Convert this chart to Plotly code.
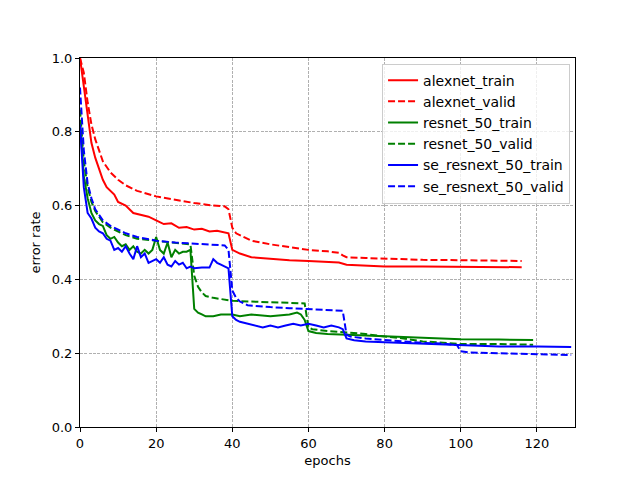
import plotly.graph_objects as go

# ---- data ----
alex_train_x = [0,1,2,3,4,5,6,7,8,9,10,12,14,16,18,20,22,24,26,28,30,32,34,36,38,39,40,42,45,50,55,60,65,68,70,75,80,90,100,110,116]
alex_train_y = [1.0,0.92,0.84,0.77,0.73,0.70,0.67,0.65,0.64,0.63,0.61,0.60,0.58,0.575,0.57,0.56,0.55,0.552,0.54,0.542,0.535,0.537,0.53,0.532,0.527,0.525,0.48,0.47,0.46,0.455,0.452,0.45,0.448,0.446,0.44,0.437,0.435,0.435,0.434,0.433,0.433]

alex_valid_x = [0,1,2,3,4,5,6,8,10,12,15,20,25,30,35,38,39,40,41,43,45,50,55,60,65,68,69,70,75,80,90,100,110,116]
alex_valid_y = [1.0,0.96,0.88,0.82,0.78,0.75,0.72,0.69,0.67,0.655,0.64,0.625,0.615,0.607,0.60,0.598,0.59,0.54,0.525,0.515,0.505,0.495,0.488,0.48,0.476,0.472,0.465,0.46,0.458,0.456,0.453,0.452,0.45,0.45]

res_train_x = [0,1,2,3,4,5,6,7,8,9,10,11,12,13,14,15,16,17,18,19,20,21,22,23,24,25,26,27,28,29,30,31,32,33,35,37,40,42,45,50,55,57,58,59,60,62,65,70,75,80,90,100,110,119]
res_train_y = [0.83,0.68,0.62,0.58,0.56,0.55,0.545,0.52,0.51,0.515,0.50,0.49,0.495,0.48,0.49,0.475,0.47,0.48,0.47,0.48,0.515,0.48,0.47,0.50,0.46,0.48,0.47,0.475,0.475,0.48,0.32,0.31,0.305,0.30,0.30,0.305,0.305,0.30,0.305,0.30,0.305,0.31,0.305,0.29,0.26,0.255,0.252,0.25,0.25,0.247,0.243,0.238,0.237,0.236]

res_valid_x = [0,1,2,3,4,5,6,8,10,12,15,20,25,28,29,30,31,32,33,35,38,40,45,50,55,59,60,61,65,70,75,80,85,90,95,100,110,119]
res_valid_y = [0.86,0.72,0.65,0.61,0.585,0.57,0.555,0.54,0.53,0.52,0.51,0.505,0.50,0.498,0.495,0.41,0.38,0.365,0.355,0.35,0.345,0.342,0.34,0.338,0.336,0.335,0.27,0.265,0.26,0.257,0.252,0.245,0.24,0.232,0.228,0.225,0.225,0.223]

se_train_x = [0,1,2,3,4,5,6,7,8,9,10,11,12,13,14,15,16,17,18,19,20,21,22,23,24,25,26,27,28,29,30,32,34,35,36,37,38,39,40,41,42,44,46,48,50,52,54,56,58,60,62,64,66,68,69,70,72,75,80,85,90,95,100,110,120,129]
se_train_y = [0.82,0.65,0.58,0.565,0.54,0.53,0.525,0.51,0.505,0.48,0.485,0.475,0.49,0.47,0.455,0.49,0.46,0.47,0.445,0.45,0.455,0.445,0.46,0.44,0.435,0.45,0.44,0.445,0.43,0.435,0.43,0.432,0.432,0.455,0.445,0.44,0.435,0.43,0.30,0.29,0.285,0.28,0.275,0.27,0.275,0.27,0.275,0.28,0.275,0.28,0.275,0.27,0.275,0.27,0.265,0.24,0.235,0.232,0.23,0.228,0.225,0.222,0.22,0.218,0.218,0.217]

se_valid_x = [0,1,2,3,4,5,6,8,10,12,15,20,25,30,35,38,39,40,41,42,44,46,50,55,60,65,69,70,71,75,80,85,90,95,99,100,102,110,120,129]
se_valid_y = [0.92,0.75,0.66,0.62,0.59,0.575,0.56,0.545,0.535,0.525,0.515,0.505,0.50,0.497,0.495,0.492,0.48,0.37,0.35,0.34,0.33,0.328,0.325,0.322,0.32,0.318,0.315,0.25,0.245,0.24,0.235,0.232,0.228,0.226,0.222,0.205,0.202,0.20,0.197,0.195]

x_ticks = [0, 20, 40, 60, 80, 100, 120]
y_ticks = [0.0, 0.2, 0.4, 0.6, 0.8, 1.0]

series = [
    ("alexnet_train", alex_train_x, alex_train_y, "#ff0000", "solid"),
    ("alexnet_valid", alex_valid_x, alex_valid_y, "#ff0000", "dash"),
    ("resnet_50_train", res_train_x, res_train_y, "#008000", "solid"),
    ("resnet_50_valid", res_valid_x, res_valid_y, "#008000", "dash"),
    ("se_resnext_50_train", se_train_x, se_train_y, "#0000ff", "solid"),
    ("se_resnext_50_valid", se_valid_x, se_valid_y, "#0000ff", "dash"),
]

fig = go.Figure()
for name, xs, ys, col, style in series:
    fig.add_trace(go.Scatter(
        x=xs, y=ys, mode="lines", name=name,
        line=dict(color=col, width=2,
                  dash=("solid" if style == "solid" else "7px,3px")),
    ))

axis_common = dict(
    showline=True, linecolor="black", linewidth=1, mirror=True,
    ticks="outside", ticklen=4, tickcolor="black", tickwidth=1,
    showgrid=True, gridcolor="#b0b0b0", griddash="3px,1.3px", gridwidth=0.8,
    zeroline=False, tickfont=dict(size=13, color="black"),
)

fig.update_xaxes(range=[0, 130], tickvals=x_ticks, ticktext=[str(t) for t in x_ticks],
                 title=dict(text="epochs", font=dict(size=13, color="black"), standoff=6),
                 **axis_common)
fig.update_yaxes(range=[0, 1], tickvals=y_ticks, ticktext=[f"{t:.1f}" for t in y_ticks],
                 title=dict(text="error rate", font=dict(size=13, color="black"), standoff=8),
                 **axis_common)

fig.update_layout(
    width=640, height=480,
    margin=dict(l=72, r=73, t=50, b=61),
    paper_bgcolor="white", plot_bgcolor="white",
    font=dict(family="DejaVu Sans", size=13, color="black"),
    legend=dict(x=0.99, y=0.985, xanchor="right", yanchor="top",
                bgcolor="rgba(255,255,255,0.8)", bordercolor="#cccccc", borderwidth=1,
                font=dict(size=14), tracegroupgap=0),
    showlegend=True,
)

fig.write_html("out.html")
